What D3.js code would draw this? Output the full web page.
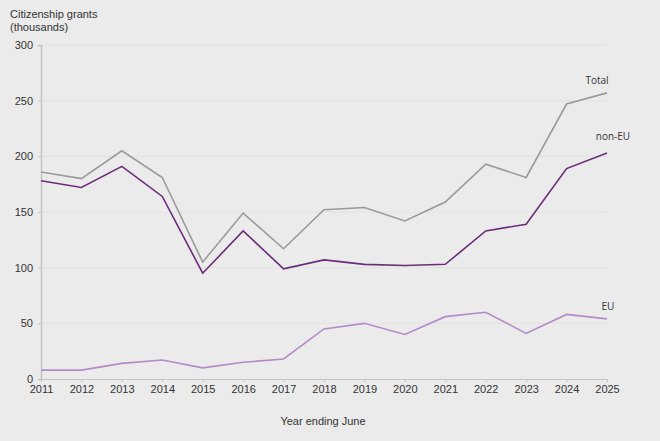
<!DOCTYPE html>
<html>
<head>
<meta charset="utf-8">
<script src="https://cdn.jsdelivr.net/npm/d3@7"></script>
<style>
  body { margin: 0; background: #ebebeb; }
  svg { display: block; }
</style>
</head>
<body>
<svg id="chart" width="660" height="441"></svg>
<script>
// Year ending June
const years = [2011, 2012, 2013, 2014, 2015, 2016, 2017, 2018, 2019, 2020, 2021, 2022, 2023, 2024, 2025];
// Citizenship grants, thousands
const totalValues = [186, 180, 205, 181, 105, 149, 117, 152, 154, 142, 159, 193, 181, 247, 257];
const nonEuValues = [178, 172, 191, 164, 95, 133, 99, 107, 103, 102, 103, 133, 139, 189, 203];
const euValues = [8, 8, 14, 17, 10, 15, 18, 45, 50, 40, 56, 60, 41, 58, 54];
const yTicks = [0, 50, 100, 150, 200, 250, 300];

const seriesList = [
    { name: 'Total', values: totalValues, color: '#9a9a9a', dx: -10, dy: -9 },
    { name: 'non-EU', values: nonEuValues, color: '#6a2c79', dx: 6, dy: -13 },
    { name: 'EU', values: euValues, color: '#b58ac8', dx: 1, dy: -9 }
];

const svg = d3.select('#chart');
const margin = { left: 41, right: 53, top: 45, bottom: 62 };
const width = 660, height = 441;

const x = d3.scaleLinear()
    .domain([2011, 2025])
    .range([margin.left, width - margin.right]);
const y = d3.scaleLinear()
    .domain([0, 300])
    .range([height - margin.bottom, margin.top]);

const axisFont = 'Liberation Sans, Arial, sans-serif';

// gridlines
svg.append('g')
    .selectAll('line')
    .data(yTicks.filter(d => d > 0))
    .join('line')
    .attr('x1', margin.left)
    .attr('x2', width - margin.right)
    .attr('y1', d => y(d))
    .attr('y2', d => y(d))
    .attr('stroke', '#e2e2e2')
    .attr('stroke-width', 1);

// y axis
const yAxis = svg.append('g')
    .attr('transform', `translate(${margin.left},0)`)
    .call(d3.axisLeft(y).tickValues(yTicks).tickSize(3).tickPadding(5));
yAxis.select('.domain').attr('stroke', '#c4c4c4').attr('stroke-width', 1.5);
yAxis.selectAll('.tick line').attr('stroke', '#c4c4c4');
yAxis.selectAll('text')
    .attr('font-family', axisFont)
    .attr('font-size', 11)
    .attr('fill', '#333');

// x axis
const xAxis = svg.append('g')
    .attr('transform', `translate(0,${y(0)})`)
    .call(d3.axisBottom(x).tickValues(years).tickFormat(d3.format('d')).tickSize(3).tickPadding(3));
xAxis.select('.domain').attr('stroke', '#c4c4c4').attr('stroke-width', 1);
xAxis.selectAll('.tick line').attr('stroke', '#c4c4c4');
xAxis.selectAll('text')
    .attr('font-family', axisFont)
    .attr('font-size', 11)
    .attr('fill', '#333');

// lines
const line = d3.line()
    .x((d, i) => x(years[i]))
    .y(d => y(d));

seriesList.forEach(s => {
    svg.append('path')
        .datum(s.values)
        .attr('d', line)
        .attr('fill', 'none')
        .attr('stroke', s.color)
        .attr('stroke-width', 1.6)
        .attr('stroke-linejoin', 'miter');

    const last = s.values.length - 1;
    svg.append('text')
        .attr('x', x(years[last]) + s.dx)
        .attr('y', y(s.values[last]) + s.dy)
        .attr('text-anchor', 'middle')
        .attr('font-family', 'Open Sans, sans-serif')
        .attr('font-size', 10)
        .attr('fill', '#333')
        .text(s.name);
});

// titles
svg.append('text')
    .attr('x', 10).attr('y', 18)
    .attr('font-family', axisFont).attr('font-size', 11).attr('fill', '#333')
    .text('Citizenship grants');
svg.append('text')
    .attr('x', 10).attr('y', 31)
    .attr('font-family', axisFont).attr('font-size', 11).attr('fill', '#333')
    .text('(thousands)');

svg.append('text')
    .attr('x', 323).attr('y', 425)
    .attr('text-anchor', 'middle')
    .attr('font-family', axisFont).attr('font-size', 11).attr('fill', '#333')
    .text('Year ending June');
</script>
</body>
</html>
